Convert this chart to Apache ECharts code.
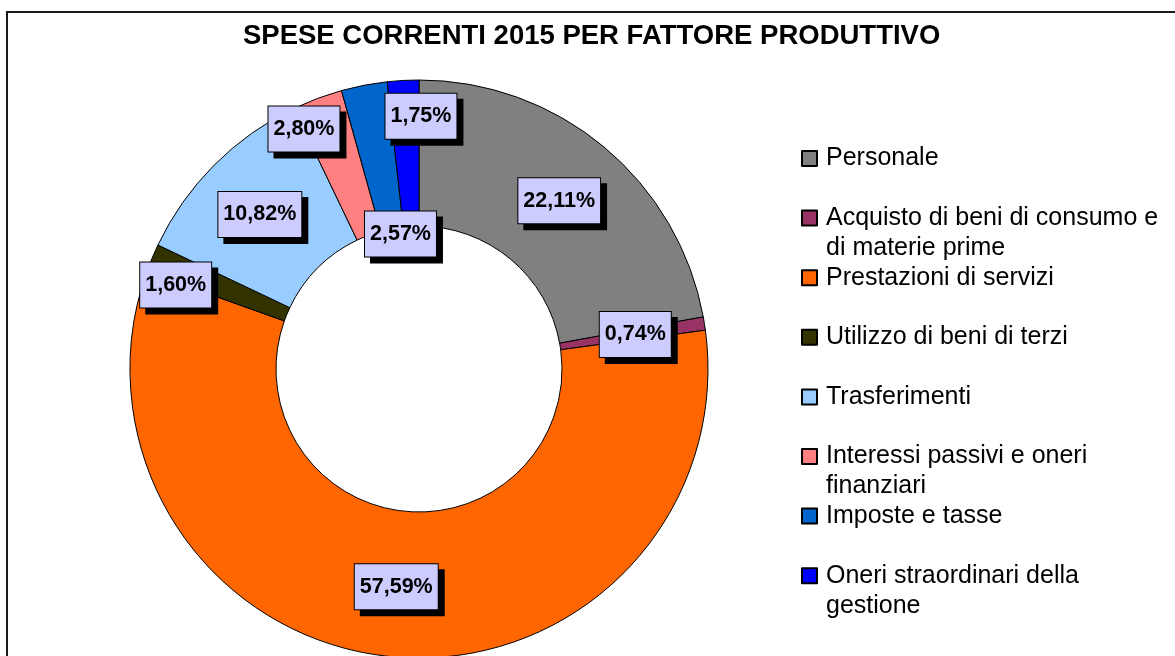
<!DOCTYPE html>
<html>
<head>
<meta charset="utf-8">
<title>Spese correnti 2015 per fattore produttivo</title>
<script src="https://cdn.jsdelivr.net/npm/echarts@6/dist/echarts.min.js"></script>
<style>
  html, body { margin: 0; padding: 0; background: #ffffff; }
  #chart { width: 1175px; height: 656px; }
</style>
</head>
<body>
<div id="chart"></div>
<script>
// Spending categories (clockwise from 12 o'clock) and their share in percent
const categories = [
  'Personale',
  'Acquisto di beni di consumo e di materie prime',
  'Prestazioni di servizi',
  'Utilizzo di beni di terzi',
  'Trasferimenti',
  'Interessi passivi e oneri finanziari',
  'Imposte e tasse',
  'Oneri straordinari della gestione'
];
const shares = [22.11, 0.74, 57.59, 1.60, 10.82, 2.80, 2.57, 1.75];

// Legend text, wrapped as in the printed report
const legendText = [
  'Personale',
  'Acquisto di beni di consumo e\ndi materie prime',
  'Prestazioni di servizi',
  'Utilizzo di beni di terzi',
  'Trasferimenti',
  'Interessi passivi e oneri\nfinanziari',
  'Imposte e tasse',
  'Oneri straordinari della\ngestione'
];

const titleText = 'SPESE CORRENTI 2015 PER FATTORE PRODUTTIVO';

// Styling
const sliceColors = ['#808080', '#993366', '#FF6600', '#333300', '#99CCFF', '#FF8080', '#0066CC', '#0000FF'];
// Small slices get their labels pushed aside so the boxes do not collide
const labelNudges = [[0, 0], [0, 0], [0, 0], [-41, 0], [-4, 0], [-38, -35], [23, 80], [14, -34]];
const FONT = '"Liberation Sans", Arial, Helvetica, sans-serif';

const fmtPct = v => v.toFixed(2).replace('.', ',') + '%';

const chart = echarts.init(document.getElementById('chart'), null, { renderer: 'canvas' });

// One legend block per entry. Legend text is centred on its icon, so a wrapped
// entry gets a blank leading line: the icon then lines up with the first text line.
const LEGEND_FIRST = 158.5, LEGEND_STEP = 59.6, LINE_H = 30, ICON = 15;
const legends = categories.map((name, i) => {
  const twoLines = legendText[i].indexOf('\n') >= 0;
  const shown = twoLines ? '\n' + legendText[i] : legendText[i];
  const center = LEGEND_FIRST + LEGEND_STEP * i;
  const blockHalf = (twoLines ? 3 : 1) * LINE_H / 2;
  return {
    data: [name],
    orient: 'vertical',
    left: 801,
    top: center - blockHalf,
    padding: 0,
    itemWidth: ICON,
    itemHeight: ICON,
    selectedMode: false,
    icon: 'rect',
    formatter: () => shown,
    textStyle: {
      fontFamily: FONT,
      fontSize: 25,
      color: '#000',
      lineHeight: LINE_H,
      padding: [0, 0, 0, 4]
    }
  };
});

chart.setOption({
  backgroundColor: '#ffffff',
  animation: false,
  title: {
    text: titleText,
    left: 243,
    top: 22,
    padding: 0,
    textStyle: {
      fontFamily: FONT,
      fontSize: 27.5,
      fontWeight: 'bold',
      color: '#000'
    }
  },
  graphic: [{
    type: 'rect',
    silent: true,
    shape: { x: 7, y: 12, width: 1250, height: 700 },
    style: { fill: 'none', stroke: '#1a1a1a', lineWidth: 2 }
  }],
  legend: legends,
  series: [{
    type: 'pie',
    center: [419, 369],
    radius: [143, 289],
    startAngle: 90,
    clockwise: true,
    avoidLabelOverlap: false,
    emphasis: { disabled: true },
    itemStyle: { borderColor: '#000', borderWidth: 1 },
    labelLine: { show: false },
    label: {
      show: true,
      position: 'inside',
      formatter: p => fmtPct(p.value),
      fontFamily: FONT,
      fontSize: 21.5,
      fontWeight: 'bold',
      color: '#000',
      lineHeight: 22,
      backgroundColor: '#CCCCFF',
      borderColor: '#000',
      borderWidth: 1,
      padding: [12, 5, 11, 5],
      shadowColor: '#000',
      shadowBlur: 0,
      shadowOffsetX: 6,
      shadowOffsetY: 6
    },
    data: categories.map((name, i) => ({
      name: name,
      value: shares[i],
      itemStyle: { color: sliceColors[i] },
      label: { offset: labelNudges[i] }
    }))
  }]
});
</script>
</body>
</html>
